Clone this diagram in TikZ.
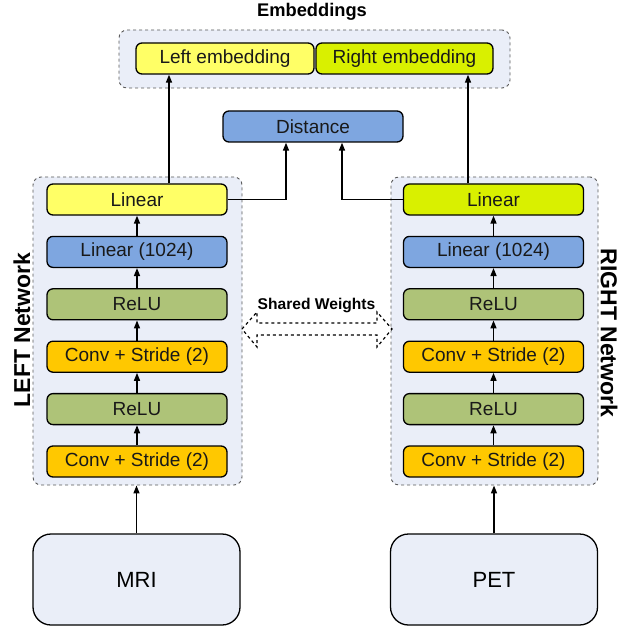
\documentclass[tikz,border=0pt]{standalone}
\usepackage{fontspec}
\setmainfont{Liberation Sans}
\usetikzlibrary{arrows.meta}
\definecolor{cont}{HTML}{EAEEF8}
\definecolor{ylight}{HTML}{FFFF66}
\definecolor{lime}{HTML}{D9F000}
\definecolor{bluebox}{HTML}{7EA6E0}
\definecolor{greenbox}{HTML}{AEC378}
\definecolor{orangebox}{HTML}{FFC800}
\begin{document}
\begin{tikzpicture}[x=1pt,y=-1pt,
  layer/.style={draw=black, line width=1.3pt, rounded corners=6pt, minimum width=180pt, minimum height=31pt, inner sep=0pt, font=\fontsize{19}{21}\selectfont, text=black!90},
  grp/.style={draw=black!65, dashed, line width=0.9pt, fill=cont, rounded corners=8pt, inner sep=0pt},
  inputbox/.style={draw=black, line width=1.3pt, fill=cont, rounded corners=18pt, minimum width=207pt, minimum height=91pt, inner sep=0pt, font=\fontsize{22}{24}\selectfont},
  arr/.style={-{Triangle[length=8pt,width=6pt]}, line width=1.5pt},
  title/.style={font=\bfseries\fontsize{18.3}{20}\selectfont},
  sidetitle/.style={font=\bfseries\fontsize{23}{25}\selectfont},
]
\useasboundingbox (0,0) rectangle (619,628);

% Embeddings group
\node[title] (embt) at (312,12) {Embeddings};
\node[grp, minimum width=391pt, minimum height=58pt] (embg) at (314.5,59) {};
\node[layer, fill=ylight, minimum width=178pt] (lemb) at (225,58.5) {Left embedding};
\node[layer, fill=lime, minimum width=177pt] (remb) at (404.5,58.5) {Right embedding};

% Distance
\node[layer, fill=bluebox] (dist) at (313,126.5) {Distance};

% Network containers
\node[grp, minimum width=209pt, minimum height=308pt] (lcont) at (137.5,331) {};
\node[grp, minimum width=207pt, minimum height=308pt] (rcont) at (494.5,331) {};

% Left layers
\node[layer, fill=ylight]    (l1) at (137,199.5) {Linear};
\node[layer, fill=bluebox]   (l2) at (137,251.9) {Linear (1024)};
\node[layer, fill=greenbox]  (l3) at (137,304.3) {ReLU};
\node[layer, fill=orangebox] (l4) at (137,356.7) {Conv + Stride (2)};
\node[layer, fill=greenbox]  (l5) at (137,409.1) {ReLU};
\node[layer, fill=orangebox] (l6) at (137,461.5) {Conv + Stride (2)};

% Right layers
\node[layer, fill=lime]      (r1) at (493.5,199.5) {Linear};
\node[layer, fill=bluebox]   (r2) at (493.5,251.9) {Linear (1024)};
\node[layer, fill=greenbox]  (r3) at (493.5,304.3) {ReLU};
\node[layer, fill=orangebox] (r4) at (493.5,356.7) {Conv + Stride (2)};
\node[layer, fill=greenbox]  (r5) at (493.5,409.1) {ReLU};
\node[layer, fill=orangebox] (r6) at (493.5,461.5) {Conv + Stride (2)};

% Inputs
\node[inputbox] (mri) at (136.5,579.5) {MRI};
\node[inputbox] (pet) at (494,579.5) {PET};

% Side titles
\node[sidetitle, rotate=90] (ltitle) at (22,330) {LEFT Network};
\node[sidetitle, rotate=-90] (rtitle) at (609,333) {RIGHT Network};

% Layer arrows
\foreach \a/\b in {l6/l5,l5/l4,l4/l3,l3/l2,l2/l1,r6/r5,r5/r4,r4/r3,r3/r2,r2/r1}
  \draw[arr] (\a.north) -- (\b.south);

% Inputs to networks
\draw[arr] (mri.north) -- (mri.north |- lcont.south);
\draw[arr] (pet.north) -- (pet.north |- rcont.south);

% Linear to embeddings
\coordinate (lup) at ([xshift=32pt]l1.north);
\coordinate (rup) at ([xshift=-25.5pt]r1.north);
\draw[arr] (lup) -- (lup |- lemb.south);
\draw[arr] (rup) -- (rup |- remb.south);

% Linear to distance
\draw[arr] (l1.east) -| ([xshift=-27pt]dist.south);
\draw[arr] (r1.west) -| ([xshift=29pt]dist.south);

% Shared weights
\draw[dashed, line width=1.2pt, fill=white, line join=miter]
  (242,329) -- (257,312) -- (257,323) -- (377,323) -- (377,312) -- (392,329)
  -- (377,347) -- (377,335) -- (257,335) -- (257,347) -- cycle;
\node[font=\bfseries\fontsize{15.6}{17}\selectfont] (sw) at (316.5,305) {Shared Weights};
\end{tikzpicture}
\end{document}
